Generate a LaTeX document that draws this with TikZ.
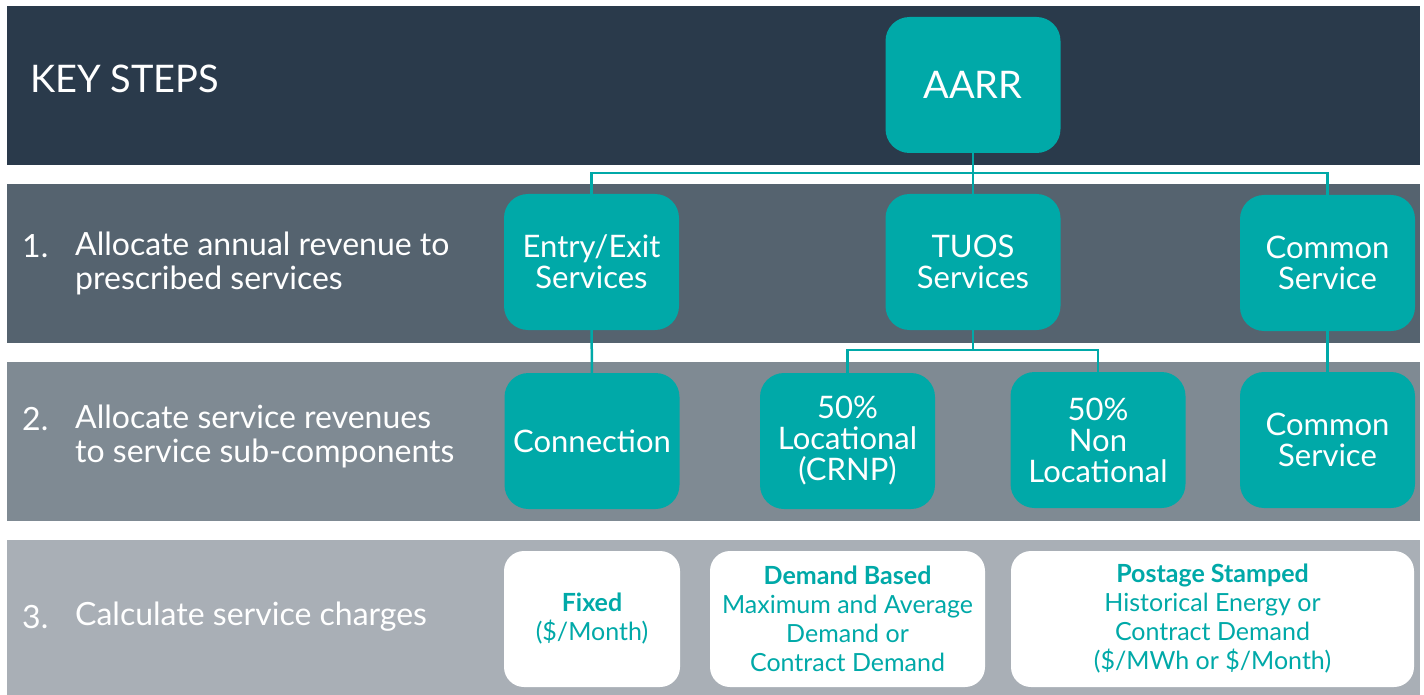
\documentclass[tikz,border=0pt]{standalone}
\usepackage{fontspec}
\setmainfont{Lato}
\usetikzlibrary{positioning}
\definecolor{bandnavy}{HTML}{2A3A4B}
\definecolor{bandslate}{HTML}{55636F}
\definecolor{bandgrey}{HTML}{7F8A93}
\definecolor{bandlight}{HTML}{A9AFB6}
\definecolor{boxteal}{HTML}{00A9A8}
\tikzstyle{tealbox} = [rectangle, rounded corners=24pt, fill=boxteal, text=white, minimum width=175pt, minimum height=136pt, inner sep=2pt, align=center, font=\fontsize{31}{31}\selectfont]
\tikzstyle{chargebox} = [rectangle, rounded corners=20pt, fill=white, text=boxteal, minimum height=136pt, inner sep=2pt, align=center, font=\fontsize{25}{29}\selectfont]
\tikzstyle{stepnum} = [anchor=west, text=white, inner sep=0pt, font=\fontsize{32}{34}\selectfont]
\tikzstyle{steplabel} = [anchor=west, text=white, inner sep=0pt, align=left, font=\fontsize{32}{34}\selectfont]
\tikzstyle{link} = [draw=boxteal, line width=2.5pt]

\begin{document}
\begin{tikzpicture}[x=1pt,y=-1pt]
    \useasboundingbox (0,0) rectangle (1424,695);
    % bands
    \fill[bandnavy] (7,6) rectangle (1420,165);
    \fill[bandslate] (7,184) rectangle (1420,343);
    \fill[bandgrey] (7,362) rectangle (1420,521);
    \fill[bandlight] (7,540) rectangle (1420,695);

    % left column
    \node[steplabel,font=\fontsize{38}{40}\selectfont](keysteps) at (30,79){KEY STEPS};
    \node[stepnum](num1) at (22,246){1.};
    \node[steplabel](lab1) at (75,263){Allocate annual revenue to\\prescribed services};
    \node[stepnum](num2) at (22,419){2.};
    \node[steplabel](lab2) at (75,436){Allocate service revenues\\to service sub-components};
    \node[stepnum](num3) at (22,617){3.};
    \node[steplabel](lab3) at (75,617){Calculate service charges};

    % tree
    \node[tealbox,font=\fontsize{38}{38}\selectfont](aarr) at (973,85){AARR};
    \node[tealbox](entry) at (591.5,262){Entry/Exit\\Services};
    \node[tealbox](tuos) at (973,262){TUOS\\Services};
    \node[tealbox](common) at (1327.5,263){Common\\Service};
    \node[tealbox](conn) at (592,441){Connection};
    \node[tealbox](loc) at (847.5,441){50\%\\Locational\\(CRNP)};
    \node[tealbox](nonloc) at (1098,440){50\%\\Non\\Locational};
    \node[tealbox](common2) at (1327.5,440){Common\\Service};

    % charges
    \node[chargebox,minimum width=176pt](fixed) at (592,619){\textbf{Fixed}\\(\$/Month)};
    \node[chargebox,minimum width=275pt](demand) at (847.5,619){\textbf{Demand Based}\\Maximum and Average\\Demand or\\Contract Demand};
    \node[chargebox,minimum width=403pt](postage) at (1212.5,619){\textbf{Postage Stamped}\\Historical Energy or\\Contract Demand\\(\$/MWh or \$/Month)};

    \coordinate (bus1) at (973,173);
    \coordinate (bus2) at (973,350);
    \draw[link] (aarr) -- (tuos);
    \draw[link] (entry.north) |- (bus1) -| (common.north);
    \draw[link] (entry) -- (conn);
    \draw[link] (tuos.south) -- (bus2);
    \draw[link] (loc.north) |- (bus2) -| (nonloc.north);
    \draw[link] (common) -- (common2);
\end{tikzpicture}
\end{document}
